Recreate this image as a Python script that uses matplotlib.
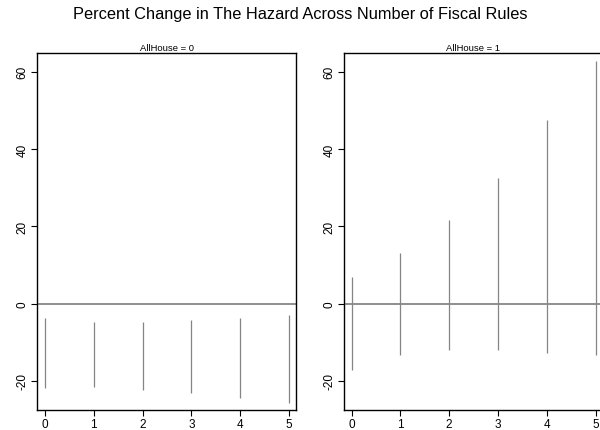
import matplotlib
matplotlib.use("Agg")
import matplotlib.pyplot as plt

plt.rcParams['font.family'] = ['Liberation Sans', 'DejaVu Sans']

rules = [0, 1, 2, 3, 4, 5]
lower_0 = [-21.9, -21.5, -22.2, -23.1, -24.3, -25.6]
upper_0 = [-3.8, -4.8, -4.8, -4.3, -3.8, -3.0]
lower_1 = [-17.1, -13.3, -12.0, -12.0, -12.7, -13.4]
upper_1 = [6.9, 13.1, 21.5, 32.5, 47.5, 62.8]
panel_titles = ["AllHouse = 0", "AllHouse = 1"]
yticks = [-20, 0, 20, 40, 60]

fig = plt.figure(figsize=(6.0, 4.31), dpi=100)
W, H = 600, 431
def pos(l, t, r, b):
    return [l / W, 1 - b / H, (r - l) / W, (b - t) / H]

axes = [fig.add_axes(pos(37, 54, 296, 411)), fig.add_axes(pos(343.7, 54, 602.5, 411))]
data = [(lower_0, upper_0), (lower_1, upper_1)]

for ax, (lo, hi), ttl in zip(axes, data, panel_titles):
    ax.axhline(0, color='#707070', lw=1.1, zorder=1)
    ax.vlines(rules, lo, hi, color='#858585', lw=0.9, zorder=2)
    ax.set_xlim(-0.16, 5.14)
    ax.set_ylim(-27.5, 64.8)
    ax.set_xticks(rules)
    ax.set_yticks(yticks)
    ax.set_yticklabels([str(v) for v in yticks], rotation=90, va='center')
    ax.tick_params(axis='both', direction='out', length=4, width=0.8, labelsize=8.5, pad=2, colors='black')
    for s in ax.spines.values():
        s.set_linewidth(1.0)
        s.set_color('black')
    ax.set_title(ttl, fontsize=6.8, pad=2)

fig.text(0.5, 1 - 15 / H, "Percent Change in The Hazard Across Number of Fiscal Rules",
         ha='center', va='center', fontsize=11.8)

fig.savefig("out.png", dpi=100)
